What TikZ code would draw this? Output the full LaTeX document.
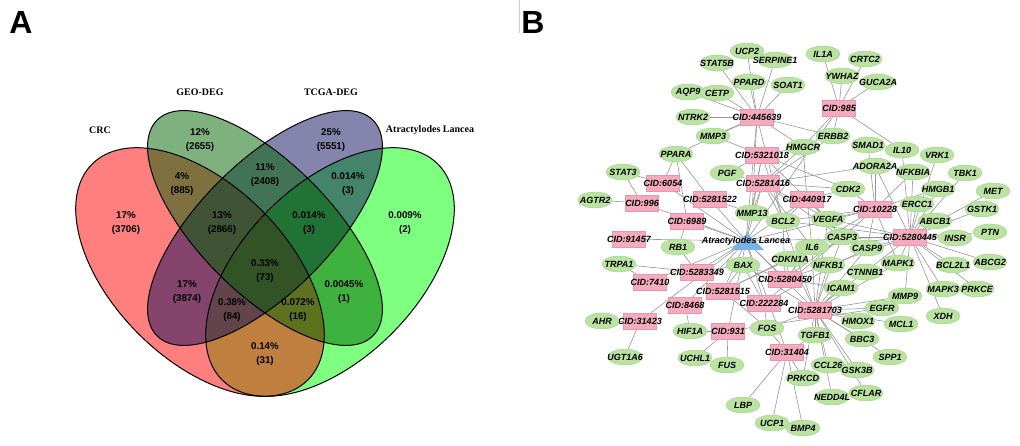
\documentclass[tikz,border=0pt]{standalone}
\usepackage{fontspec}
\setmainfont{Liberation Sans}
\newfontfamily\timesfont{Liberation Serif}
\usepackage{tikz}
\usetikzlibrary{shapes.geometric, backgrounds}

\definecolor{crcred}{RGB}{255,0,0}
\definecolor{geogreen}{RGB}{0,100,0}
\definecolor{tcgablue}{RGB}{10,10,90}
\definecolor{algreen}{RGB}{0,255,0}
\definecolor{genefill}{RGB}{186,226,160}
\definecolor{geneline}{RGB}{165,208,145}
\definecolor{cidfill}{RGB}{245,170,190}
\definecolor{cidline}{RGB}{228,152,172}
\definecolor{hubblue}{RGB}{120,180,225}
\definecolor{linkgray}{RGB}{150,150,150}

\begin{document}
\begin{tikzpicture}
[
    x = 1pt, y = -1pt,
    panel/.style = {font = \fontsize{32}{32}\selectfont\bfseries},
    setname/.style = {font = \timesfont\fontsize{10}{11}\selectfont\bfseries},
    pct/.style = {font = \fontsize{9.8}{14}\selectfont\bfseries, align = center},
    gene/.style = {ellipse, draw = geneline, fill = genefill, minimum width = 34pt,
        minimum height = 16pt, inner sep = 0pt,
        font = \fontsize{9}{9}\selectfont\bfseries\itshape,
        execute at begin node = {\hbox to 0pt\bgroup\hss},
        execute at end node = {\hss\egroup}},
    cid/.style = {rectangle, draw = cidline, fill = cidfill, minimum width = 33pt,
        minimum height = 16pt, inner sep = 0pt,
        font = \fontsize{9}{9}\selectfont\bfseries\itshape,
        execute at begin node = {\hbox to 0pt\bgroup\hss},
        execute at end node = {\hss\egroup}},
    hub/.style = {font = \fontsize{9}{9}\selectfont\bfseries\itshape, inner sep = 0pt},
    link/.style = {draw = linkgray, line width = 0.6pt},
]
    \useasboundingbox (0,0) rectangle (1020,445);

    % panel A: venn
    \node[panel] (A) at (21,22) {A};
    \draw[gray!40] (519,0) -- (519,33);
    \fill[algreen, fill opacity = 0.5, rotate around = {45:(330,272)}]
        (330,272) ellipse [x radius = 152.6pt, y radius = 87.2pt];
    \fill[crcred, fill opacity = 0.5, rotate around = {-45:(200,272)}]
        (200,272) ellipse [x radius = 152.6pt, y radius = 87.2pt];
    \fill[tcgablue, fill opacity = 0.5, rotate around = {45:(265,228)}]
        (265,228) ellipse [x radius = 152.6pt, y radius = 65.4pt];
    \fill[geogreen, fill opacity = 0.5, rotate around = {-45:(265,228)}]
        (265,228) ellipse [x radius = 152.6pt, y radius = 65.4pt];
    \draw[line width = 1pt, rotate around = {45:(330,272)}]
        (330,272) ellipse [x radius = 152.6pt, y radius = 87.2pt];
    \draw[line width = 1pt, rotate around = {-45:(200,272)}]
        (200,272) ellipse [x radius = 152.6pt, y radius = 87.2pt];
    \draw[line width = 1pt, rotate around = {45:(265,228)}]
        (265,228) ellipse [x radius = 152.6pt, y radius = 65.4pt];
    \draw[line width = 1pt, rotate around = {-45:(265,228)}]
        (265,228) ellipse [x radius = 152.6pt, y radius = 65.4pt];

    \node[setname] (crc) at (100,130) {CRC};
    \node[setname] (geo) at (200,92) {GEO-DEG};
    \node[setname] (tcga) at (331,92) {TCGA-DEG};
    \node[setname] (atl) at (430,130) {Atractylodes Lancea};

    \node[pct] (r0100) at (200,140) {12\%\\(2655)};
    \node[pct] (r0010) at (331,140) {25\%\\(5551)};
    \node[pct] (r0110) at (265,175) {11\%\\(2408)};
    \node[pct] (r1100) at (182,184) {4\%\\(885)};
    \node[pct] (r0011) at (348,184) {0.014\%\\(3)};
    \node[pct] (r1000) at (126,223) {17\%\\(3706)};
    \node[pct] (r1110) at (222,223) {13\%\\(2866)};
    \node[pct] (r0111) at (309,223) {0.014\%\\(3)};
    \node[pct] (r0001) at (405,223) {0.009\%\\(2)};
    \node[pct] (r1111) at (265,271) {0.33\%\\(73)};
    \node[pct] (r1010) at (187,292) {17\%\\(3874)};
    \node[pct] (r0101) at (344,292) {0.0045\%\\(1)};
    \node[pct] (r1011) at (232,310) {0.38\%\\(84)};
    \node[pct] (r1101) at (298,310) {0.072\%\\(16)};
    \node[pct] (r1001) at (265,354) {0.14\%\\(31)};

    % panel B: network
    \node[panel] (B) at (533,22) {B};

    \fill[hubblue] (731,250) -- (747,233) -- (764,250) -- cycle;
    \node[hub] (AL) at (746,241) {Atractylodes Lancea};

    \node[cid] (c445639) at (757,117) {CID:445639};
    \node[cid] (c985) at (839,108) {CID:985};
    \node[cid] (c5321018) at (762,155) {CID:5321018};
    \node[cid] (c6054) at (663,183) {CID:6054};
    \node[cid] (c5281416) at (763,183) {CID:5281416};
    \node[cid] (c5281522) at (710,199) {CID:5281522};
    \node[cid] (c996) at (642,203) {CID:996};
    \node[cid] (c440917) at (807,199) {CID:440917};
    \node[cid] (c10228) at (875,209) {CID:10228};
    \node[cid] (c6989) at (687,221) {CID:6989};
    \node[cid] (c5280445) at (910,237) {CID:5280445};
    \node[cid] (c91457) at (629,239) {CID:91457};
    \node[cid] (c5283349) at (697,272) {CID:5283349};
    \node[cid] (c7410) at (650,282) {CID:7410};
    \node[cid] (c5280450) at (785,279) {CID:5280450};
    \node[cid] (c5281515) at (723,291) {CID:5281515};
    \node[cid] (c222284) at (764,303) {CID:222284};
    \node[cid] (c8468) at (685,305) {CID:8468};
    \node[cid] (c5281703) at (815,310) {CID:5281703};
    \node[cid] (c31423) at (640,321) {CID:31423};
    \node[cid] (c931) at (728,331) {CID:931};
    \node[cid] (c31404) at (787,352) {CID:31404};

    \node[gene] (UCP2) at (747,51) {UCP2};
    \node[gene] (STAT5B) at (717,63) {STAT5B};
    \node[gene] (SERPINE1) at (775,60) {SERPINE1};
    \node[gene] (IL1A) at (823,54) {IL1A};
    \node[gene] (CRTC2) at (865,59) {CRTC2};
    \node[gene] (YWHAZ) at (842,76) {YWHAZ};
    \node[gene] (GUCA2A) at (878,82) {GUCA2A};
    \node[gene] (PPARD) at (749,82) {PPARD};
    \node[gene] (SOAT1) at (788,85) {SOAT1};
    \node[gene] (AQP9) at (688,92) {AQP9};
    \node[gene] (CETP) at (717,93) {CETP};
    \node[gene] (NTRK2) at (693,117) {NTRK2};
    \node[gene] (MMP3) at (713,136) {MMP3};
    \node[gene] (ERBB2) at (833,136) {ERBB2};
    \node[gene] (HMGCR) at (803,147) {HMGCR};
    \node[gene] (SMAD1) at (868,145) {SMAD1};
    \node[gene] (IL10) at (902,150) {IL10};
    \node[gene] (VRK1) at (937,155) {VRK1};
    \node[gene] (PPARA) at (676,154) {PPARA};
    \node[gene] (PGF) at (727,173) {PGF};
    \node[gene] (STAT3) at (623,172) {STAT3};
    \node[gene] (ADORA2A) at (875,166) {ADORA2A};
    \node[gene] (NFKBIA) at (913,172) {NFKBIA};
    \node[gene] (TBK1) at (965,173) {TBK1};
    \node[gene] (HMGB1) at (938,189) {HMGB1};
    \node[gene] (MET) at (993,191) {MET};
    \node[gene] (CDK2) at (848,189) {CDK2};
    \node[gene] (AGTR2) at (595,200) {AGTR2};
    \node[gene] (ERCC1) at (917,204) {ERCC1};
    \node[gene] (GSTK1) at (982,209) {GSTK1};
    \node[gene] (MMP13) at (752,213) {MMP13};
    \node[gene] (BCL2) at (783,221) {BCL2};
    \node[gene] (VEGFA) at (828,219) {VEGFA};
    \node[gene] (ABCB1) at (935,221) {ABCB1};
    \node[gene] (PTN) at (990,232) {PTN};
    \node[gene] (CASP3) at (842,237) {CASP3};
    \node[gene] (INSR) at (955,238) {INSR};
    \node[gene] (RB1) at (678,247) {RB1};
    \node[gene] (IL6) at (812,247) {IL6};
    \node[gene] (CASP9) at (867,248) {CASP9};
    \node[gene] (CDKN1A) at (790,259) {CDKN1A};
    \node[gene] (ABCG2) at (990,262) {ABCG2};
    \node[gene] (TRPA1) at (619,264) {TRPA1};
    \node[gene] (BAX) at (743,265) {BAX};
    \node[gene] (NFKB1) at (828,265) {NFKB1};
    \node[gene] (MAPK1) at (898,263) {MAPK1};
    \node[gene] (BCL2L1) at (953,265) {BCL2L1};
    \node[gene] (CTNNB1) at (865,272) {CTNNB1};
    \node[gene] (ICAM1) at (841,288) {ICAM1};
    \node[gene] (MAPK3) at (943,289) {MAPK3};
    \node[gene] (PRKCE) at (977,289) {PRKCE};
    \node[gene] (MMP9) at (905,296) {MMP9};
    \node[gene] (EGFR) at (882,308) {EGFR};
    \node[gene] (XDH) at (943,316) {XDH};
    \node[gene] (AHR) at (602,321) {AHR};
    \node[gene] (HMOX1) at (858,321) {HMOX1};
    \node[gene] (MCL1) at (901,324) {MCL1};
    \node[gene] (HIF1A) at (690,331) {HIF1A};
    \node[gene] (FOS) at (767,328) {FOS};
    \node[gene] (TGFB1) at (815,335) {TGFB1};
    \node[gene] (BBC3) at (862,339) {BBC3};
    \node[gene] (UGT1A6) at (625,357) {UGT1A6};
    \node[gene] (UCHL1) at (695,358) {UCHL1};
    \node[gene] (FUS) at (727,365) {FUS};
    \node[gene] (SPP1) at (890,357) {SPP1};
    \node[gene] (CCL26) at (828,365) {CCL26};
    \node[gene] (GSK3B) at (857,370) {GSK3B};
    \node[gene] (PRKCD) at (803,378) {PRKCD};
    \node[gene] (CFLAR) at (866,393) {CFLAR};
    \node[gene] (NEDD4L) at (832,397) {NEDD4L};
    \node[gene] (LBP) at (743,405) {LBP};
    \node[gene] (UCP1) at (772,423) {UCP1};
    \node[gene] (BMP4) at (803,428) {BMP4};

    \begin{scope}[on background layer]
        \path[link] (AL.center) edge (c445639) edge (c985) edge (c5321018) edge (c6054)
            edge (c5281416) edge (c5281522) edge (c996) edge (c440917) edge (c10228)
            edge (c6989) edge (c5280445) edge (c91457) edge (c5283349) edge (c7410)
            edge (c5280450) edge (c5281515) edge (c222284) edge (c8468) edge (c5281703)
            edge (c31423) edge (c931) edge (c31404);
        \path[link] (c445639) edge (UCP2) edge (STAT5B) edge (SERPINE1) edge (PPARD)
            edge (SOAT1) edge (AQP9) edge (CETP) edge (NTRK2) edge (MMP3) edge (ERBB2)
            edge (HMGCR) edge (PPARA) edge (MMP13) edge (BCL2);
        \path[link] (c985) edge (IL1A) edge (CRTC2) edge (YWHAZ) edge (GUCA2A)
            edge (ERBB2) edge (IL10) edge (HMGCR);
        \path[link] (c5321018) edge (MMP3) edge (HMGCR) edge (PGF) edge (BCL2)
            edge (MMP13) edge (VEGFA) edge (CDK2);
        \path[link] (c5281416) edge (PGF) edge (HMGCR) edge (MMP13) edge (BCL2)
            edge (CDK2) edge (VEGFA) edge (IL6) edge (CASP3) edge (ERBB2) edge (ADORA2A);
        \path[link] (c6054) edge (PPARA) edge (STAT3);
        \path[link] (c5281522) edge (PPARA) edge (MMP13);
        \path[link] (c996) edge (STAT3) edge (AGTR2);
        \path[link] (c6989) edge (RB1) edge (PPARA);
        \path[link] (c440917) edge (BCL2) edge (VEGFA) edge (CDK2) edge (HMGCR)
            edge (IL6) edge (CASP3);
        \path[link] (c10228) edge (SMAD1) edge (ADORA2A) edge (NFKBIA) edge (CDK2)
            edge (VEGFA) edge (CASP3) edge (CASP9) edge (ERCC1) edge (HMGB1)
            edge (BCL2) edge (IL6) edge (MAPK1);
        \path[link] (c5280445) edge (ERCC1) edge (HMGB1) edge (ABCB1) edge (INSR)
            edge (GSTK1) edge (ABCG2) edge (BCL2L1) edge (MAPK3) edge (PRKCE)
            edge (XDH) edge (MAPK1) edge (CASP9) edge (CASP3) edge (VEGFA) edge (IL10)
            edge (NFKBIA) edge (VRK1) edge (TBK1) edge (MET) edge (PTN) edge (MMP9)
            edge (CTNNB1) edge (NFKB1) edge (ADORA2A) edge (BCL2) edge (IL6);
        \path[link] (c5283349) edge (RB1) edge (BAX) edge (TRPA1);
        \path[link] (c7410) edge (TRPA1);
        \path[link] (c5281515) edge (BAX) edge (CDKN1A) edge (FOS) edge (IL6);
        \path[link] (c5280450) edge (BAX) edge (CDKN1A) edge (NFKB1) edge (ICAM1)
            edge (BCL2) edge (IL6) edge (CASP3);
        \path[link] (c222284) edge (FOS) edge (BAX) edge (CASP9) edge (CASP3);
        \path[link] (c8468) edge (HIF1A);
        \path[link] (c31423) edge (AHR) edge (UGT1A6);
        \path[link] (c931) edge (HIF1A) edge (UCHL1) edge (FUS) edge (EGFR);
        \path[link] (c5281703) edge (TGFB1) edge (ICAM1) edge (EGFR) edge (HMOX1)
            edge (BBC3) edge (MCL1) edge (MMP9) edge (CCL26) edge (GSK3B) edge (NEDD4L)
            edge (CFLAR) edge (PRKCD) edge (CASP9) edge (CTNNB1) edge (MAPK1)
            edge (NFKB1) edge (CDKN1A) edge (BAX) edge (IL6) edge (BCL2) edge (CASP3)
            edge (FOS) edge (VEGFA) edge (SPP1);
        \path[link] (c31404) edge (LBP) edge (UCP1) edge (BMP4) edge (PRKCD)
            edge (TGFB1) edge (FOS);
    \end{scope}
\end{tikzpicture}
\end{document}
